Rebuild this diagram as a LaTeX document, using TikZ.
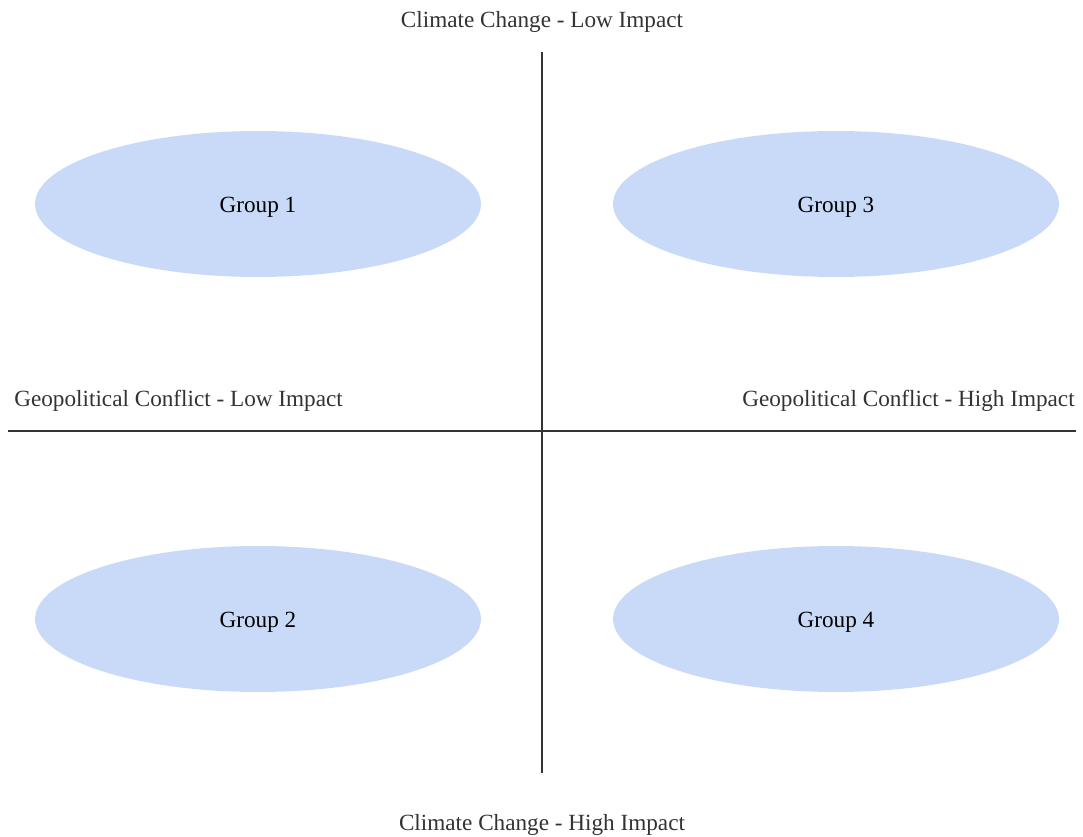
\documentclass[tikz,border=0pt]{standalone}
\usepackage{fontspec}
\setmainfont{Liberation Serif}
\usepackage{xcolor}
\usetikzlibrary{shapes.geometric}
\definecolor{groupblue}{HTML}{C9DAF8}
\definecolor{axisgray}{HTML}{333333}
\tikzset{
  group/.style={ellipse, fill=groupblue, minimum width=8.92cm, minimum height=2.92cm, inner sep=0pt, text height=13pt, text depth=3pt, font=\fontsize{13.2}{16}\selectfont},
  axislabel/.style={inner sep=0pt, text=axisgray, font=\fontsize{13.2}{16}\selectfont},
  axisline/.style={draw=axisgray, line width=0.7pt}
}
\begin{document}
\begin{tikzpicture}[x=0.02cm, y=-0.02cm]
\useasboundingbox (0,0) rectangle (1083,837);

% Axes
\coordinate (top) at (542,52);
\coordinate (bottom) at (542,773);
\coordinate (left) at (8,431);
\coordinate (right) at (1076,431);
\draw[axisline] (top) -- (bottom);
\draw[axisline] (left) -- (right);

% Axis labels
\node[axislabel] (cclow) at (542,22) {Climate Change - Low Impact};
\node[axislabel] (cchigh) at (542,825) {Climate Change - High Impact};
\node[axislabel, anchor=west] (gclow) at (14,401) {Geopolitical Conflict - Low Impact};
\node[axislabel, anchor=east] (gchigh) at (1075,401) {Geopolitical Conflict - High Impact};

% Groups
\node[group] (g1) at (258,204) {Group 1};
\node[group] (g3) at (836,204) {Group 3};
\node[group] (g2) at (258,619) {Group 2};
\node[group] (g4) at (836,619) {Group 4};

\end{tikzpicture}
\end{document}
